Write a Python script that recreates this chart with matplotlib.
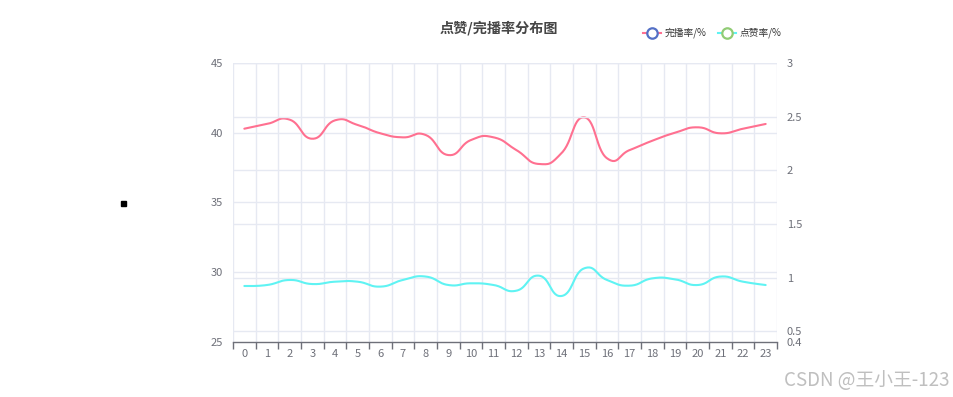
import numpy as np
import matplotlib
matplotlib.use("Agg")
import matplotlib.pyplot as plt
from matplotlib.lines import Line2D
from matplotlib.patches import Rectangle

plt.rcParams['font.family'] = ['Noto Sans CJK SC', 'DejaVu Sans']

hours = [str(h) for h in range(24)]
finish_rate = [40.29, 40.63, 40.94, 39.57, 40.89, 40.56, 39.96, 39.67, 39.84, 38.4,
               39.48, 39.67, 38.76, 37.76, 38.55, 41.1, 38.17, 38.76, 39.43, 40.0,
               40.39, 39.96, 40.29, 40.63]
like_rate = [0.922, 0.931, 0.978, 0.94, 0.962, 0.962, 0.916, 0.978, 1.01, 0.931,
             0.947, 0.931, 0.878, 1.018, 0.829, 1.087, 0.978, 0.925, 0.993, 0.984,
             0.931, 1.01, 0.962, 0.931]
left_ticks = [25, 30, 35, 40, 45]
right_ticks = [0.4, 0.5, 1, 1.5, 2, 2.5, 3]
right_labels = ['0.4', '0.5', '1', '1.5', '2', '2.5', '3']
title = '点赞/完播率分布图'
legend_names = ['完播率/%', '点赞率/%']

PINK = '#ff7090'
CYAN = '#5ff3f3'
GRID = '#e6e9f2'
AXC = '#6E7079'


def smooth_curve(xs, ys, smooth=0.5, n=30):
    xs = np.asarray(xs, float)
    ys = np.asarray(ys, float)
    pts = np.column_stack([xs, ys])
    m = len(pts)
    cps_prev = np.zeros_like(pts)
    cps_next = np.zeros_like(pts)
    for i in range(m):
        prev = pts[max(i - 1, 0)]
        nxt = pts[min(i + 1, m - 1)]
        v = (nxt - prev) * smooth
        if i == 0 or i == m - 1:
            v = v * 0.5
        cps_prev[i] = pts[i] - v * 0.5
        cps_next[i] = pts[i] + v * 0.5
    out_x, out_y = [], []
    t = np.linspace(0, 1, n)[:, None]
    for i in range(m - 1):
        p0, p1, p2, p3 = pts[i], cps_next[i], cps_prev[i + 1], pts[i + 1]
        b = ((1 - t) ** 3) * p0 + 3 * ((1 - t) ** 2) * t * p1 + 3 * (1 - t) * t ** 2 * p2 + t ** 3 * p3
        out_x.extend(b[:, 0])
        out_y.extend(b[:, 1])
    return np.array(out_x), np.array(out_y)


W, H = 954, 397
fig = plt.figure(figsize=(W / 100, H / 100), dpi=100)
L, R, T, B = 233, 777, 63, 342
ax = fig.add_axes([L / W, (H - B) / H, (R - L) / W, (B - T) / H])
ax2 = ax.twinx()

x = np.arange(len(hours))
ax.set_xlim(-0.5, len(hours) - 0.5)
ax.set_ylim(left_ticks[0], left_ticks[-1])
ax2.set_ylim(right_ticks[0], right_ticks[-1])

# grid lines
for v in left_ticks[1:]:
    ax.axhline(v, color=GRID, lw=1, zorder=0)
for v in right_ticks[1:]:
    ax2.axhline(v, color=GRID, lw=1, zorder=0)
for b in np.arange(-0.5, len(hours), 1.0):
    ax.axvline(b, color=GRID, lw=1, zorder=0)

sx, sy = smooth_curve(x, finish_rate)
ax.plot(sx, sy, color=PINK, lw=1.5, zorder=3, solid_capstyle='round')
sx2, sy2 = smooth_curve(x, like_rate)
ax2.plot(sx2, sy2, color=CYAN, lw=1.5, zorder=3, solid_capstyle='round')

for a in (ax, ax2):
    for s in a.spines.values():
        s.set_visible(False)
ax.spines['bottom'].set_visible(True)
ax.spines['bottom'].set_color(AXC)
ax.spines['bottom'].set_linewidth(1)

ax.set_xticks(np.arange(-0.5, len(hours), 1.0))
ax.set_xticklabels([])
ax.set_xticks(x, minor=True)
ax.set_xticklabels(hours, minor=True)
ax.tick_params(axis='x', which='major', length=5, color=AXC, width=1, direction='out')
ax.tick_params(axis='x', which='minor', length=0, pad=5, labelsize=8, labelcolor=AXC)

ax.set_yticks(left_ticks)
ax.set_yticklabels([str(v) for v in left_ticks])
ax.tick_params(axis='y', length=0, pad=7, labelsize=8, labelcolor=AXC)
ax2.set_yticks(right_ticks)
ax2.set_yticklabels(right_labels)
ax2.tick_params(axis='y', length=0, pad=7, labelsize=8, labelcolor=AXC)

# title
fig.text(499 / W, 1 - 28 / H, title, ha='center', va='center', fontsize=10.2,
         fontweight='bold', color='#464646')

# legend
leg = [(643, PINK, '#5470c6', legend_names[0]), (718, CYAN, '#91cc75', legend_names[1])]
for x0, lc, mc, name in leg:
    yy = 1 - 33 / H
    fig.add_artist(Line2D([x0 / W, (x0 + 18) / W], [yy, yy], color=lc, lw=1.5,
                          transform=fig.transFigure))
    fig.add_artist(Line2D([(x0 + 9) / W], [yy], marker='o', markersize=7.5,
                          markerfacecolor='white', markeredgecolor=mc, markeredgewidth=1.6,
                          transform=fig.transFigure))
    fig.text((x0 + 22) / W, yy, name, ha='left', va='center', fontsize=7, color='#333333')

# small black square
fig.add_artist(Rectangle((121 / W, 1 - 206 / H), 5 / W, 5 / H, color='black',
                         transform=fig.transFigure))

# watermark
fig.text(950 / W, 1 - 380 / H, 'CSDN @王小王-123', ha='right', va='center',
         fontsize=13.5, color='#b8b8b8', alpha=0.9)

fig.savefig('out.png', dpi=100, facecolor='white')
